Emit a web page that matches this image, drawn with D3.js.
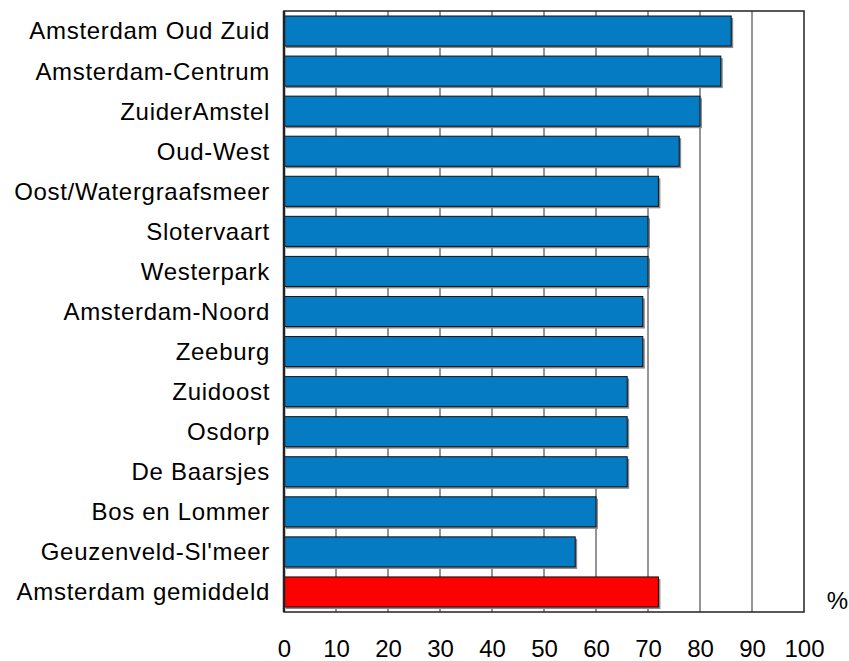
<!DOCTYPE html>
<html>
<head>
<meta charset="utf-8">
<script src="https://cdn.jsdelivr.net/npm/d3@7"></script>
<style>
  body { margin: 0; background: #fff; }
  svg text { font-family: "Liberation Sans", Arial, sans-serif; fill: #000; }
</style>
</head>
<body>
<div id="chart"></div>
<script>
// stadsdelen, percentage
const districts = [
    'Amsterdam Oud Zuid', 'Amsterdam-Centrum', 'ZuiderAmstel', 'Oud-West',
    'Oost/Watergraafsmeer', 'Slotervaart', 'Westerpark', 'Amsterdam-Noord',
    'Zeeburg', 'Zuidoost', 'Osdorp', 'De Baarsjes', 'Bos en Lommer',
    'Geuzenveld-Sl\'meer', 'Amsterdam gemiddeld'
];
const values = [86, 84, 80, 76, 72, 70, 70, 69, 69, 66, 66, 66, 60, 56, 72];
const tickValues = [0, 10, 20, 30, 40, 50, 60, 70, 80, 90, 100];
const averageLabel = 'Amsterdam gemiddeld';

const width = 849;
const height = 661;
const margin = { top: 11, right: 45, bottom: 49, left: 284 };

const data = districts.map((d, i) => ({ name: d, value: values[i] }));

const svg = d3.select('#chart').append('svg')
    .attr('width', width)
    .attr('height', height);

const x = d3.scaleLinear()
    .domain([0, 100])
    .range([margin.left, width - margin.right]);

const y = d3.scaleBand()
    .domain(districts)
    .range([margin.top, height - margin.bottom])
    .paddingInner(0.25)
    .paddingOuter(0.125);

// gridlines
svg.append('g')
    .selectAll('line')
    .data(tickValues.slice(1, -1))
    .enter().append('line')
    .attr('x1', d => x(d))
    .attr('x2', d => x(d))
    .attr('y1', margin.top)
    .attr('y2', height - margin.bottom)
    .style('stroke', '#2a2a2a')
    .style('stroke-width', 1);

const bars = svg.append('g')
    .selectAll('g')
    .data(data)
    .enter().append('g');

// shadow
bars.append('rect')
    .attr('x', x(0) + 2)
    .attr('y', d => y(d.name) + 2)
    .attr('width', d => x(d.value) - x(0))
    .attr('height', y.bandwidth())
    .style('fill', '#8a8a8a');

bars.append('rect')
    .attr('x', x(0))
    .attr('y', d => y(d.name))
    .attr('width', d => x(d.value) - x(0))
    .attr('height', y.bandwidth())
    .style('fill', d => d.name === averageLabel ? '#ff0000' : '#057bc3')
    .style('stroke', '#111')
    .style('stroke-width', 1);

// plot frame
svg.append('rect')
    .attr('x', x(0))
    .attr('y', margin.top)
    .attr('width', x(100) - x(0))
    .attr('height', height - margin.bottom - margin.top)
    .style('fill', 'none')
    .style('stroke', '#222')
    .style('stroke-width', 1.5);

svg.append('line')
    .attr('x1', x(0)).attr('x2', x(0))
    .attr('y1', margin.top).attr('y2', height - margin.bottom)
    .style('stroke', '#222')
    .style('stroke-width', 2.5);

// category labels
const yAxis = svg.append('g')
    .attr('transform', `translate(${x(0) - 14},0)`)
    .call(d3.axisLeft(y).tickSize(0).tickPadding(0));
yAxis.select('.domain').remove();
yAxis.selectAll('text')
    .style('font-size', '24px')
    .style('letter-spacing', '0.7px')
    .attr('dy', '0.35em');

// value labels
const xAxis = svg.append('g')
    .attr('transform', `translate(0,${height - 4})`)
    .call(d3.axisBottom(x).tickValues(tickValues).tickSize(0).tickPadding(0));
xAxis.select('.domain').remove();
xAxis.selectAll('text')
    .attr('dy', 0)
    .style('font-size', '24px');

svg.append('text')
    .attr('x', 848)
    .attr('y', 609)
    .attr('text-anchor', 'end')
    .style('font-size', '24px')
    .text('%');
</script>
</body>
</html>
